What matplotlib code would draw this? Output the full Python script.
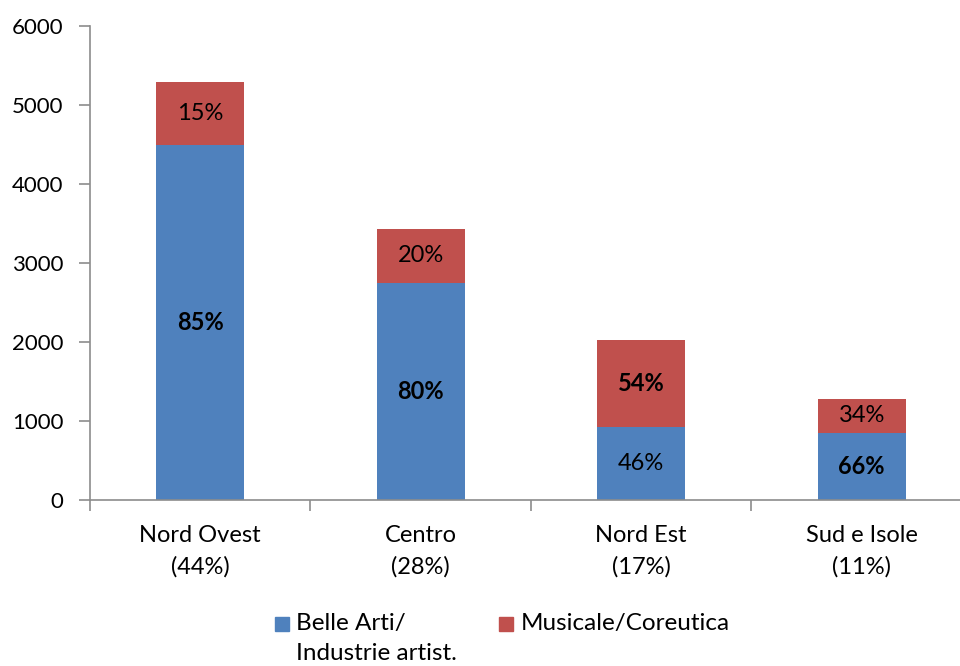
import matplotlib.pyplot as plt
from matplotlib.patches import Rectangle

plt.rcParams['font.family'] = ['Lato', 'DejaVu Sans']

# ===================== dati =====================
regioni = ['Nord Ovest\n(44%)', 'Centro\n(28%)', 'Nord Est\n(17%)', 'Sud e Isole\n(11%)']
belle_arti = [4490, 2750, 925, 850]
musicale = [800, 680, 1100, 430]
perc_ba = ['85%', '80%', '46%', '66%']
perc_mu = ['15%', '20%', '54%', '34%']
bold_ba = [True, True, False, True]
bold_mu = [False, False, True, False]

BLU = '#4F81BD'
ROSSO = '#C0504D'
GRIGIO = '#8C8C8C'

fig = plt.figure(figsize=(9.6, 6.66), dpi=100)
ax = fig.add_axes([90 / 960, 166 / 666, 870 / 960, 474 / 666])

x = list(range(len(regioni)))
ax.bar(x, belle_arti, width=0.4, color=BLU)
ax.bar(x, musicale, width=0.4, bottom=belle_arti, color=ROSSO)

for i in x:
    ax.text(i, belle_arti[i] / 2, perc_ba[i], ha='center', va='center', fontsize=17,
            fontweight='bold' if bold_ba[i] else 'normal')
    ax.text(i, belle_arti[i] + musicale[i] / 2, perc_mu[i], ha='center', va='center', fontsize=17,
            fontweight='bold' if bold_mu[i] else 'normal')

ax.set_ylim(0, 6000)
ax.set_xlim(-0.5, 3.446)
ax.set_yticks(range(0, 6001, 1000))
ax.set_xticks([-0.5, 0.5, 1.5, 2.5])
ax.set_xticklabels([])
ax.set_xticks(x, minor=True)
ax.set_xticklabels(regioni, minor=True, fontsize=17, linespacing=1.6)
ax.tick_params(axis='x', which='minor', length=0, pad=18)
ax.tick_params(axis='x', which='major', length=8, color=GRIGIO, width=1.2)
ax.tick_params(axis='y', length=8, color=GRIGIO, width=1.2, labelsize=16, pad=11)

for s in ['top', 'right']:
    ax.spines[s].set_visible(False)
for s in ['left', 'bottom']:
    ax.spines[s].set_color(GRIGIO)
    ax.spines[s].set_linewidth(1.2)

# ===================== legenda =====================
fig.patches.append(Rectangle((275 / 960, 1 - 631 / 666), 14 / 960, 14 / 666,
                             transform=fig.transFigure, color=BLU))
fig.patches.append(Rectangle((499 / 960, 1 - 631 / 666), 14 / 960, 14 / 666,
                             transform=fig.transFigure, color=ROSSO))
fig.text(296 / 960, 1 - 613 / 666, 'Belle Arti/\nIndustrie artist.', ha='left', va='top',
         fontsize=17.5, linespacing=1.5)
fig.text(521 / 960, 1 - 613 / 666, 'Musicale/Coreutica', ha='left', va='top', fontsize=17.5)

fig.savefig('out.png', dpi=100)
